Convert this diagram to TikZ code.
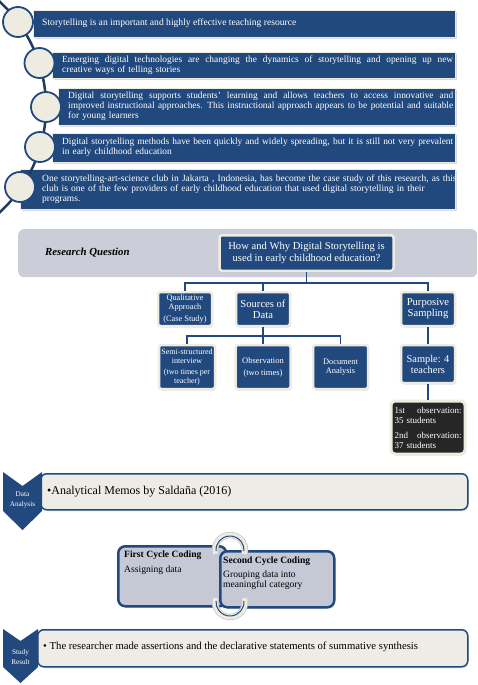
\documentclass[tikz,border=0pt]{standalone}
\usepackage{fontspec}
\setmainfont{Liberation Serif}
\usetikzlibrary{shadows}
\definecolor{navy}{HTML}{22497E}
\definecolor{arcnavy}{HTML}{1F3A60}
\definecolor{cream}{HTML}{EEECE1}
\definecolor{creamb}{HTML}{EEECE6}
\definecolor{bandc}{HTML}{CBCDD8}
\definecolor{codefill}{HTML}{C5C9D6}
\definecolor{blackbox}{HTML}{262626}
\newcommand{\jline}[2]{\leavevmode\hbox to #1{\spaceskip=0.22em plus 1fil minus 0.1em\relax #2}}
\begin{document}
\begin{tikzpicture}[x=1pt,y=-1pt,
  topbox/.style={fill=navy, draw=cream, line width=1pt, anchor=north west, inner sep=0pt,
     drop shadow={shadow xshift=1.5pt,shadow yshift=-1.5pt,opacity=0.3}},
  toptext/.style={text=white, font=\fontsize{9.4}{10}\selectfont, inner sep=0pt, anchor=west, align=left},
  circ/.style={circle, draw=navy, line width=1.8pt, fill=cream, minimum size=30pt, inner sep=0pt},
  arcline/.style={draw=arcnavy, line width=2.5pt},
  hbox/.style={fill=navy, draw=cream, line width=2.5pt, rounded corners=2.5pt, text=white, align=center, inner sep=0pt,
     drop shadow={shadow xshift=1pt,shadow yshift=-1.5pt,opacity=0.25}},
  conn/.style={draw=navy, line width=1.8pt},
  mid/.style={font=\fontsize{10.6}{11}\selectfont},
  resbox/.style={fill=creamb, draw=navy, line width=1.5pt, rounded corners=6pt, anchor=north west, inner sep=0pt,
     drop shadow={shadow xshift=1pt,shadow yshift=-1.5pt,opacity=0.2}},
  chevtext/.style={text=white, font=\fontsize{7.2}{10}\selectfont, align=center, inner sep=0pt},
  codebox/.style={fill=codefill, draw=navy, line width=2.5pt, rounded corners=7pt, anchor=north west, inner sep=0pt,
     drop shadow={shadow xshift=1pt,shadow yshift=-1.5pt,opacity=0.25}},
  codetext/.style={anchor=north west, align=left, inner sep=0pt, font=\fontsize{9.6}{10}\selectfont},
]
\useasboundingbox (0,0) rectangle (478,685);

% ---------- top list ----------
\node[topbox, minimum width=422pt, minimum height=27pt] (b1) at (33,10) {};
\node[topbox, minimum width=403pt, minimum height=26pt] (b2) at (52,52) {};
\node[topbox, minimum width=397pt, minimum height=37pt] (b3) at (58,88) {};
\node[topbox, minimum width=403pt, minimum height=29pt] (b4) at (52,133) {};
\node[topbox, minimum width=435pt, minimum height=40pt] (b5) at (20,169) {};

\node[toptext, font=\fontsize{9.6}{10}\selectfont] (t1) at (42,23.5) {Storytelling is an important and highly effective teaching resource};
\node[toptext, text width=391pt] (t2) at (62,65) {\jline{391pt}{Emerging digital technologies are changing the dynamics of storytelling and opening up new}\\creative ways of telling stories};
\node[toptext, text width=385pt] (t3) at (68,106.5) {\jline{385pt}{Digital storytelling supports students' learning and allows teachers to access innovative and}\\\jline{385pt}{improved instructional approaches. This instructional approach appears to be potential and suitable}\\for young learners};
\node[toptext, text width=391pt] (t4) at (62,147.5) {\jline{391pt}{Digital storytelling methods have been quickly and widely spreading, but it is still not very prevalent}\\in early childhood education};
\node[toptext, text width=420pt, font=\fontsize{9.5}{10}\selectfont] (t5) at (42,189) {One storytelling-art-science club in Jakarta , Indonesia, has become the case study of this research, as this\\club is one of the few providers of early childhood education that used digital storytelling in their\\programs.};

\coordinate (arcc) at (-97,107);
\draw[arcline] ([shift={(-50:143)}]arcc) arc[start angle=-50,end angle=50,radius=143];

\node[circ] (c1) at (18,22) {};
\node[circ] (c2) at (39.5,63) {};
\node[circ] (c3) at (46,107) {};
\node[circ] (c4) at (40,147) {};
\node[circ] (c5) at (20,187) {};

% ---------- research question ----------
\node[fill=bandc, rounded corners=6pt, anchor=north west, minimum width=459pt, minimum height=48pt, inner sep=0pt] (band) at (18,229) {};
\node[anchor=west, inner sep=0pt, font=\fontsize{10.8}{12}\selectfont\bfseries\itshape] (rq) at (45,253) {Research Question};

\node[hbox, minimum width=174pt, minimum height=35.5pt, font=\fontsize{10.6}{11.5}\selectfont] (q) at (306.5,253) {How and Why Digital Storytelling is\\used in early childhood education?};

\node[hbox, font=\fontsize{8.3}{9}\selectfont, minimum width=54pt, minimum height=34pt] (qual) at (185,309) {Qualitative\\Approach\\[2.5pt](Case Study)};
\node[hbox, mid, minimum width=54pt, minimum height=34pt] (src) at (263,309) {Sources of\\Data};
\node[hbox, mid, minimum width=54pt, minimum height=34pt] (purp) at (428,309) {Purposive\\Sampling};

\node[hbox, font=\fontsize{8}{9}\selectfont, minimum width=56pt, minimum height=44pt] (semi) at (187,367) {Semi-structured\\interview\\[2pt](two times per\\teacher)};
\node[hbox, font=\fontsize{8.5}{9.5}\selectfont, minimum width=55pt, minimum height=44pt] (obs) at (263,367) {Observation\\[2.5pt](two times)};
\node[hbox, font=\fontsize{8.4}{9}\selectfont, minimum width=55pt, minimum height=44pt] (doc) at (340.5,367) {Document\\Analysis};
\node[hbox, font=\fontsize{10.4}{11}\selectfont, minimum width=54pt, minimum height=38pt] (sample) at (428,364) {Sample: 4\\teachers};

\node[fill=blackbox, draw=cream, line width=3pt, rounded corners=4pt, text=white, inner sep=0pt,
      minimum width=74pt, minimum height=53pt, text width=67pt, align=left, font=\fontsize{9}{10}\selectfont,
      drop shadow={shadow xshift=1pt,shadow yshift=-1.5pt,opacity=0.25}] (blk) at (428,427.5)
  {\jline{67pt}{1st observation:}\\35 students\\[5pt]\jline{67pt}{2nd observation:}\\37 students};

\coordinate (j1) at (306.5,283);
\draw[conn] (q.south) -- (j1);
\draw[conn] (j1) -| (qual.north);
\draw[conn] (j1) -| (src.north);
\draw[conn] (j1) -| (purp.north);
\coordinate (j2) at (263,336);
\draw[conn] (src.south) -- (j2);
\draw[conn] (j2) -| (semi.north);
\draw[conn] (j2) -| (obs.north);
\draw[conn] (j2) -| (doc.north);
\draw[conn] (purp.south) -- (sample.north);
\draw[conn] (sample.south) -- (blk.north);

% ---------- data analysis ----------
\node[resbox, minimum width=427pt, minimum height=36pt] (dabox) at (40,473) {};
\fill[navy] (3,472) -- (22.5,486) -- (42,472) -- (42,511) -- (22.5,530) -- (3,511) -- cycle;
\node[chevtext] (dach) at (22.5,500) {Data\\Analysis};
\node[anchor=west, inner sep=0pt, font=\fontsize{12}{14}\selectfont] (dat) at (47,492) {•Analytical Memos by Saldaña (2016)};

% ---------- coding cycle ----------
\node[codebox, minimum width=108pt, minimum height=60pt] (fcc) at (117,545) {};
\node[codebox, minimum width=114pt, minimum height=56pt] (scc) at (219,550) {};
\node[codetext] (fcct) at (124,551) {\textbf{First Cycle Coding}\\[4.5pt]Assigning data};
\node[codetext] (scct) at (223,557) {\textbf{Second Cycle Coding}\\[4pt]Grouping data into\\meaningful category};

\coordinate (atop) at (230,550);
\coordinate (abot) at (230,602);
\draw[line width=6.5pt, draw=gray!45] ([shift={(165:15)}]atop) arc[start angle=165,end angle=375,radius=15];
\draw[line width=5pt, draw=cream] ([shift={(165:15)}]atop) arc[start angle=165,end angle=375,radius=15];
\draw[line width=1pt, draw=navy] ([shift={(175:14)}]atop) arc[start angle=175,end angle=365,radius=14];
\draw[line width=6.5pt, draw=gray!45] ([shift={(-15:15)}]abot) arc[start angle=-15,end angle=195,radius=15];
\draw[line width=5pt, draw=cream] ([shift={(-15:15)}]abot) arc[start angle=-15,end angle=195,radius=15];
\draw[line width=1pt, draw=navy] ([shift={(-5:14)}]abot) arc[start angle=-5,end angle=185,radius=14];

% ---------- study result ----------
\node[resbox, minimum width=430pt, minimum height=37pt] (srbox) at (37,629) {};
\fill[navy] (3,629) -- (20.5,641) -- (38,629) -- (38,667) -- (20.5,683) -- (3,667) -- cycle;
\node[chevtext] (srch) at (20.5,657) {Study\\Result};
\node[anchor=west, inner sep=0pt, font=\fontsize{10.7}{12}\selectfont] (srt) at (43,647) {• The researcher made assertions and the declarative statements of summative synthesis};

\end{tikzpicture}
\end{document}
